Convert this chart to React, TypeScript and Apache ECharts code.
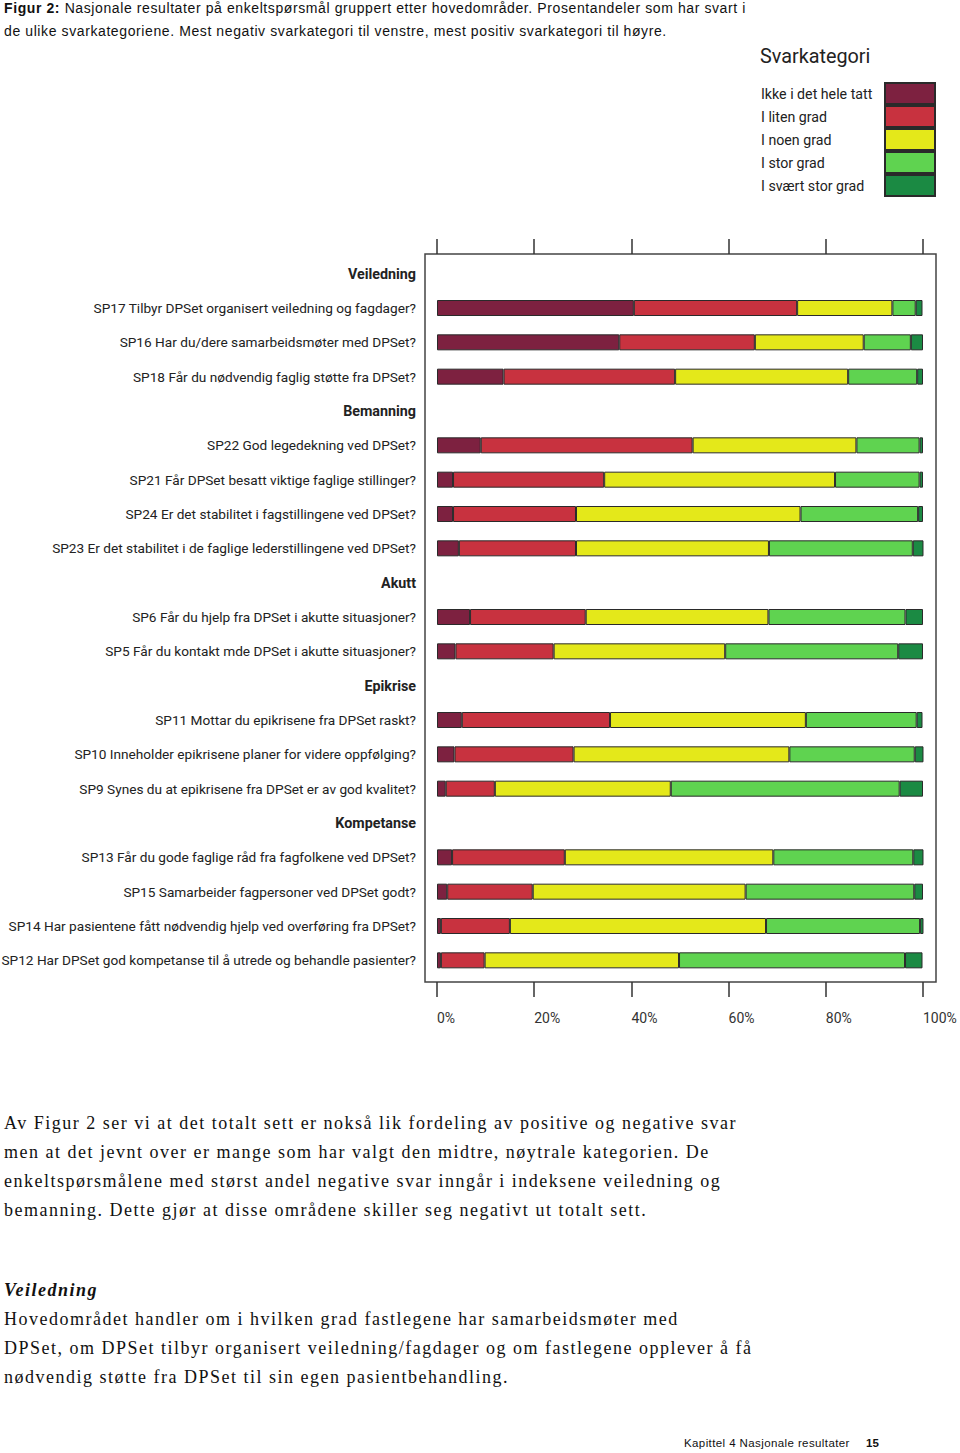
import React, { useEffect, useRef } from "react";
import * as echarts from "echarts";

const categories = [
  "Veiledning",
  "SP17 Tilbyr DPSet organisert veiledning og fagdager?",
  "SP16 Har du/dere samarbeidsmøter med DPSet?",
  "SP18 Får du nødvendig faglig støtte fra DPSet?",
  "Bemanning",
  "SP22 God legedekning ved DPSet?",
  "SP21 Får DPSet besatt viktige faglige stillinger?",
  "SP24 Er det stabilitet i fagstillingene ved DPSet?",
  "SP23 Er det stabilitet i de faglige lederstillingene ved DPSet?",
  "Akutt",
  "SP6 Får du hjelp fra DPSet i akutte situasjoner?",
  "SP5 Får du kontakt mde DPSet i akutte situasjoner?",
  "Epikrise",
  "SP11 Mottar du epikrisene fra DPSet raskt?",
  "SP10 Inneholder epikrisene planer for videre oppfølging?",
  "SP9 Synes du at epikrisene fra DPSet er av god kvalitet?",
  "Kompetanse",
  "SP13 Får du gode faglige råd fra fagfolkene ved DPSet?",
  "SP15 Samarbeider fagpersoner ved DPSet godt?",
  "SP14 Har pasientene fått nødvendig hjelp ved overføring fra DPSet?",
  "SP12 Har DPSet god kompetanse til å utrede og behandle pasienter?",
];

const headers = ["Veiledning", "Bemanning", "Akutt", "Epikrise", "Kompetanse"];

const seriesNames = [
  "Ikke i det hele tatt",
  "I liten grad",
  "I noen grad",
  "I stor grad",
  "I svært stor grad",
];

const ikkeIDetHeleTatt = [null, 40.5, 37.5, 13.7, null, 9.0, 3.3, 3.3, 4.5, null, 6.8, 3.8, null, 5.1, 3.6, 1.8, null, 3.1, 2.1, 0.8, 0.8];
const iLitenGrad = [null, 33.6, 27.9, 35.3, null, 43.6, 31.1, 25.3, 24.1, null, 23.8, 20.2, null, 30.5, 24.5, 10.1, null, 23.2, 17.6, 14.2, 9.0];
const iNoenGrad = [null, 19.6, 22.4, 35.6, null, 33.7, 47.5, 46.2, 39.7, null, 37.6, 35.3, null, 40.3, 44.4, 36.2, null, 42.9, 43.8, 52.7, 40.0];
const iStorGrad = [null, 4.8, 9.7, 14.2, null, 13.0, 17.4, 24.2, 29.6, null, 28.2, 35.6, null, 22.8, 25.8, 47.1, null, 28.8, 34.7, 31.7, 46.5];
const iSvaertStorGrad = [null, 1.4, 2.5, 1.2, null, 0.7, 0.7, 1.0, 2.2, null, 3.6, 5.1, null, 1.2, 1.8, 4.8, null, 2.1, 1.8, 0.7, 3.6];

const seriesValues = [ikkeIDetHeleTatt, iLitenGrad, iNoenGrad, iStorGrad, iSvaertStorGrad];
const seriesColors = ["#7d2140", "#c8323f", "#e4e81a", "#5fd350", "#1b8a43"];

const NARROW = "Roboto, 'Liberation Sans', sans-serif";

export default function App() {
  const ref = useRef<HTMLDivElement>(null);

  useEffect(() => {
    if (!ref.current) return;
    const chart = echarts.init(ref.current, undefined, { renderer: "svg" });
    const tickStyle = { show: true, inside: false, length: 15, lineStyle: { color: "#333", width: 1.5 } };
    chart.setOption({
      animation: false,
      backgroundColor: "#ffffff",
      title: {
        text: "Svarkategori",
        left: 760,
        top: 46,
        padding: 0,
        textStyle: { fontFamily: NARROW, fontSize: 19.8, fontWeight: "normal", color: "#222" },
      },
      legend: {
        data: seriesNames,
        orient: "vertical",
        left: 761,
        top: 82,
        padding: 0,
        align: "right",
        itemWidth: 50,
        itemHeight: 21,
        itemGap: 0,
        icon: "rect",
        selectedMode: false,
        formatter: (name: string) => `{a|${name}}`,
        textStyle: {
          width: 119,
          fontFamily: NARROW,
          fontSize: 14.2,
          color: "#222",
          rich: { a: { align: "left", fontFamily: NARROW, fontSize: 14.2, color: "#222" } },
        },
      },
      grid: { left: 437, width: 486, top: 256.5, height: 721, containLabel: false, outerBoundsMode: "none" },
      xAxis: [
        {
          type: "value",
          min: 0,
          max: 100,
          interval: 20,
          position: "bottom",
          offset: 4.5,
          axisLine: { show: false },
          axisTick: tickStyle,
          splitLine: { show: false },
          axisLabel: {
            formatter: "{value}%",
            align: "left",
            margin: 29,
            fontFamily: NARROW,
            fontSize: 14,
            color: "#333",
          },
        },
        {
          type: "value",
          min: 0,
          max: 100,
          interval: 20,
          position: "top",
          offset: 2.5,
          axisLine: { show: false },
          axisTick: tickStyle,
          splitLine: { show: false },
          axisLabel: { show: false },
        },
      ],
      yAxis: {
        type: "category",
        data: categories,
        inverse: true,
        axisLine: { show: false },
        axisTick: { show: false },
        splitLine: { show: false },
        axisLabel: {
          margin: 21,
          fontFamily: NARROW,
          fontSize: 13.65,
          color: "#222",
          formatter: (v: string) => (headers.includes(v) ? `{h|${v}}` : v),
          rich: { h: { fontFamily: NARROW, fontSize: 14.3, fontWeight: "bold", color: "#222" } },
        },
      },
      series: seriesNames.map((name, i) => ({
        name,
        type: "bar",
        stack: "total",
        xAxisIndex: 0,
        barWidth: 16,
        data: seriesValues[i].map((v) => (v === null ? "-" : v)),
        itemStyle: { color: seriesColors[i], borderColor: "#2a2a2a", borderWidth: 1 },
        emphasis: { disabled: true },
      })),
      graphic: [
        {
          type: "rect",
          shape: { x: 425, y: 254, width: 511, height: 728 },
          style: { fill: "none", stroke: "#444", lineWidth: 1.5 },
          silent: true,
          z: -1,
        },
      ],
    });
    return () => chart.dispose();
  }, []);

  const serif = "'Liberation Serif', 'Times New Roman', serif";
  const sans = "'Liberation Sans', Arial, sans-serif";
  const bodyStyle: React.CSSProperties = {
    position: "absolute",
    left: 4,
    fontFamily: serif,
    fontSize: 18,
    lineHeight: "29px",
    letterSpacing: "1.5px",
    color: "#111",
    whiteSpace: "nowrap",
  };

  return (
    <div style={{ position: "absolute", left: 0, top: 0, width: 960, height: 1453, background: "#fff" }}>
      <div ref={ref} style={{ position: "absolute", left: 0, top: 0, width: 960, height: 1453 }} />
      <div
        style={{
          position: "absolute",
          left: 4,
          top: -3,
          fontFamily: sans,
          fontSize: 14,
          lineHeight: "23px",
          letterSpacing: "0.6px",
          color: "#111",
          whiteSpace: "nowrap",
        }}
      >
        <b>Figur 2:</b> Nasjonale resultater på enkeltspørsmål gruppert etter hovedområder. Prosentandeler som har svart i
        <br />
        de ulike svarkategoriene. Mest negativ svarkategori til venstre, mest positiv svarkategori til høyre.
      </div>
      <div style={{ ...bodyStyle, top: 1108.5 }}>
        Av Figur 2 ser vi at det totalt sett er nokså lik fordeling av positive og negative svar
        <br />
        men at det jevnt over er mange som har valgt den midtre, nøytrale kategorien. De
        <br />
        enkeltspørsmålene med størst andel negative svar inngår i indeksene veiledning og
        <br />
        bemanning. Dette gjør at disse områdene skiller seg negativt ut totalt sett.
      </div>
      <div style={{ ...bodyStyle, top: 1275.5 }}>
        <b>
          <i>Veiledning</i>
        </b>
        <br />
        Hovedområdet handler om i hvilken grad fastlegene har samarbeidsmøter med
        <br />
        DPSet, om DPSet tilbyr organisert veiledning/fagdager og om fastlegene opplever å få
        <br />
        nødvendig støtte fra DPSet til sin egen pasientbehandling.
      </div>
      <div
        style={{
          position: "absolute",
          left: 684,
          top: 1436,
          fontFamily: sans,
          fontSize: 11.5,
          lineHeight: "14px",
          letterSpacing: "0.4px",
          color: "#111",
          whiteSpace: "nowrap",
        }}
      >
        Kapittel 4 Nasjonale resultater
      </div>
      <div
        style={{
          position: "absolute",
          left: 866,
          top: 1436,
          fontFamily: sans,
          fontSize: 11.5,
          lineHeight: "14px",
          fontWeight: "bold",
          color: "#111",
        }}
      >
        15
      </div>
    </div>
  );
}
